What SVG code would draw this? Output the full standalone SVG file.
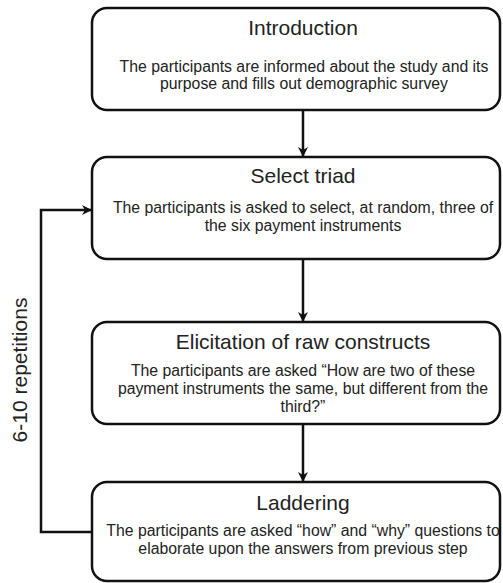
<svg xmlns="http://www.w3.org/2000/svg" width="503" height="583" viewBox="0 0 503 583">
<style>
.box{fill:#fff;stroke:#111;stroke-width:2.5}
.title{font-family:"Liberation Sans",Arial,sans-serif;font-size:21px;fill:#222;text-anchor:middle}
.body{font-family:"Liberation Sans",Arial,sans-serif;font-size:15.8px;fill:#222;text-anchor:middle}
.conn{fill:none;stroke:#111;stroke-width:2.5}
</style>
<defs>
<marker id="arr" viewBox="0 0 10 10" refX="9" refY="5" markerWidth="4" markerHeight="4" orient="auto" markerUnits="strokeWidth">
<path d="M0,0 L10,5 L0,10 L3,5 z" fill="#111"/>
</marker>
</defs>
<rect width="503" height="583" fill="#fff"/>
<g id="connectors">
<line class="conn" x1="303" y1="110" x2="303" y2="156" marker-end="url(#arr)"/>
<line class="conn" x1="303" y1="259" x2="303" y2="321" marker-end="url(#arr)"/>
<line class="conn" x1="303" y1="424" x2="303" y2="481" marker-end="url(#arr)"/>
<polyline class="conn" points="92,532 41,532 41,210 91,210" marker-end="url(#arr)"/>
<text class="title" transform="translate(27,370) rotate(-90)" text-anchor="middle">6-10 repetitions</text>
</g>
<g id="introduction">
<rect class="box" x="92" y="8" width="408" height="102" rx="15"/>
<text class="title" x="303" y="35">Introduction</text>
<text class="body" x="304" y="72">The participants are informed about the study and its</text>
<text class="body" x="304" y="89">purpose and fills out demographic survey</text>
</g>
<g id="select-triad">
<rect class="box" x="92" y="157" width="408" height="102" rx="15"/>
<text class="title" x="303" y="183">Select triad</text>
<text class="body" x="303" y="213">The participants is asked to select, at random, three of</text>
<text class="body" x="303" y="231">the six payment instruments</text>
</g>
<g id="elicitation">
<rect class="box" x="92" y="322" width="408" height="102" rx="15"/>
<text class="title" x="303" y="349">Elicitation of raw constructs</text>
<text class="body" x="303" y="376">The participants are asked “How are two of these</text>
<text class="body" x="303" y="394">payment instruments the same, but different from the</text>
<text class="body" x="303" y="412">third?”</text>
</g>
<g id="laddering">
<rect class="box" x="92" y="482" width="408" height="99" rx="15"/>
<text class="title" x="303" y="510">Laddering</text>
<text class="body" x="303" y="536">The participants are asked “how” and “why” questions to</text>
<text class="body" x="303" y="554">elaborate upon the answers from previous step</text>
</g>
</svg>
